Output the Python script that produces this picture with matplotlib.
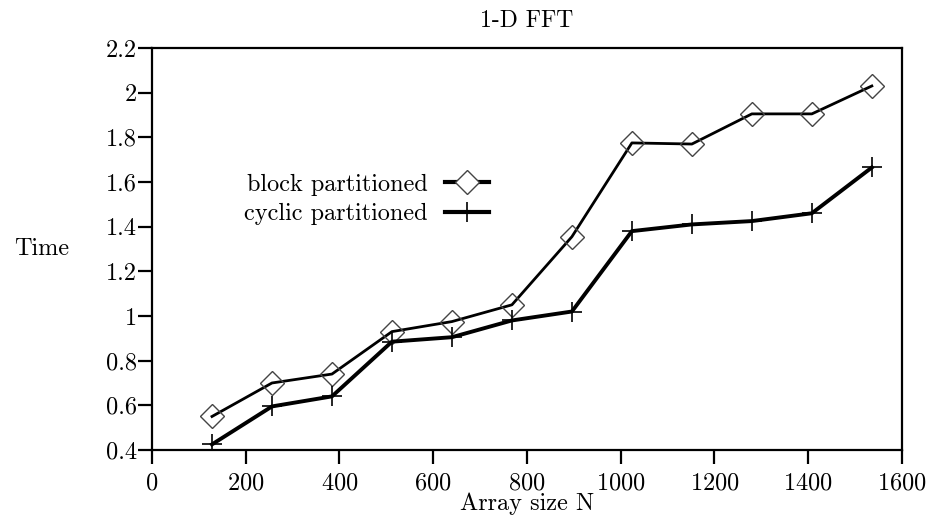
import matplotlib.pyplot as plt
from matplotlib.lines import Line2D

# data
sizes = [128, 256, 384, 512, 640, 768, 896, 1024, 1152, 1280, 1408, 1536]
block_time = [0.55, 0.70, 0.74, 0.93, 0.975, 1.05, 1.355, 1.775, 1.77, 1.905, 1.905, 2.03]
cyclic_time = [0.425, 0.595, 0.64, 0.885, 0.905, 0.98, 1.02, 1.38, 1.41, 1.425, 1.46, 1.665]

plt.rcParams['font.family'] = ['cmr10', 'DejaVu Serif']
plt.rcParams['axes.formatter.use_mathtext'] = True
plt.rcParams['font.size'] = 17.5

fig = plt.figure(figsize=(9.28, 5.19), dpi=100)
ax = fig.add_axes([0.1638, 0.133, 0.808, 0.7745])

ax.plot(sizes, block_time, color='black', lw=2.0, marker='D', ms=12,
        mfc='none', mec='#444444', mew=1.0, label='block partitioned')
ax.plot(sizes, cyclic_time, color='black', lw=2.8, marker='+', ms=15,
        mec='black', mew=1.2, label='cyclic partitioned')

ax.set_xlim(0, 1600)
ax.set_ylim(0.4, 2.2)
ax.set_xticks([0, 200, 400, 600, 800, 1000, 1200, 1400, 1600])
ax.set_yticks([0.4, 0.6, 0.8, 1.0, 1.2, 1.4, 1.6, 1.8, 2.0, 2.2])
ax.set_yticklabels(['0.4', '0.6', '0.8', '1', '1.2', '1.4', '1.6', '1.8', '2', '2.2'])

for s in ax.spines.values():
    s.set_linewidth(1.6)
ax.tick_params(direction='out', length=10, width=1.6)
ax.tick_params(axis='x', pad=6)
ax.tick_params(axis='y', pad=1)

ax.set_title('1-D FFT', pad=15, fontsize=17)
ax.set_xlabel('Array size N', labelpad=-1)
ax.set_ylabel('Time', rotation=0, ha='center', va='center')
ax.yaxis.set_label_coords(-0.147, 0.5)

handles = [Line2D([], [], color='black', lw=3, marker='D', ms=12, mfc='white',
                  mec='#444444', mew=1.0),
           Line2D([], [], color='black', lw=3, marker='+', ms=15, mec='black', mew=1.2)]
ax.legend(handles, ['block partitioned', 'cyclic partitioned'], frameon=False,
          markerfirst=False, numpoints=1, handlelength=1.8, handletextpad=0.7,
          labelspacing=0.3, loc='center right', bbox_to_anchor=(0.478, 0.623))

fig.savefig('out.png', dpi=100)
